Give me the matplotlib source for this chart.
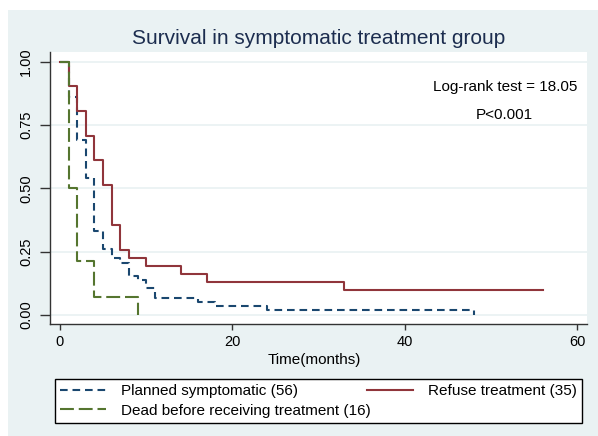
import matplotlib
matplotlib.use('Agg')
import matplotlib.pyplot as plt
from matplotlib.patches import Rectangle

plt.rcParams['font.family'] = ['Liberation Sans', 'DejaVu Sans']
plt.rcParams['lines.scale_dashes'] = False

# Kaplan-Meier steps
planned_t = [0, 1, 2, 3, 4, 5, 6, 7, 8, 9, 10, 11, 16, 18, 24, 48]
planned_s = [1.0, 0.86, 0.69, 0.54, 0.33, 0.26, 0.224, 0.207, 0.155, 0.138, 0.107, 0.068, 0.053, 0.036, 0.018, 0.0]
refuse_t = [0, 1, 2, 3, 4, 5, 6, 7, 8, 10, 14, 17, 33, 56]
refuse_s = [1.0, 0.905, 0.805, 0.707, 0.613, 0.514, 0.357, 0.257, 0.226, 0.195, 0.162, 0.129, 0.099, 0.099]
dead_t = [0, 1, 2, 4, 9]
dead_s = [1.0, 0.5, 0.214, 0.071, 0.0]

labels = ['Planned symptomatic (56)', 'Refuse treatment (35)', 'Dead before receiving treatment (16)']
yticks = [0, 0.25, 0.5, 0.75, 1.0]
xticks = [0, 20, 40, 60]

W, H = 598, 436
bg = '#eaf2f3'

fig = plt.figure(figsize=(W / 100, H / 100), dpi=100)
fig.patches.append(Rectangle((8 / W, 0), (W - 8) / W, (H - 10) / H, transform=fig.transFigure,
                             facecolor=bg, edgecolor='none', zorder=-10))

# axes box in pixels: x 50..587, y 52..323.5
ax = fig.add_axes([50 / W, (H - 323.5) / H, 537 / W, 271.5 / H])
ax.set_facecolor('white')

l1, = ax.step(planned_t, planned_s, where='post', color='#1a476f', lw=1.5, dashes=(5.5, 3.5))
l2, = ax.step(refuse_t, refuse_s, where='post', color='#90353b', lw=1.5)
l3, = ax.step(dead_t, dead_s, where='post', color='#55752f', lw=1.5, dashes=(10, 3.5))

ax.set_xlim(-1.16, 61.14)
ax.set_ylim(-0.0336, 1.038)
ax.set_xticks(xticks)
ax.set_yticks(yticks)
ax.set_yticklabels(['%.2f' % v for v in yticks], rotation=90, va='center')
ax.grid(axis='y', color=bg, lw=1.3)
ax.set_axisbelow(True)

for s in ['top', 'right']:
    ax.spines[s].set_visible(False)
for s in ['left', 'bottom']:
    ax.spines[s].set_color('#333333')
    ax.spines[s].set_linewidth(1.0)
ax.tick_params(axis='y', length=7, width=1, color='#333333', pad=5, labelsize=10.5)
ax.tick_params(axis='x', length=4.5, width=1, color='#333333', pad=4, labelsize=10.5)

ax.text(51.6, 0.90, 'Log-rank test = 18.05', ha='center', va='center', fontsize=11)
ax.text(51.6, 0.79, 'P<0.001', ha='center', va='center', fontsize=11)

fig.text(318.5 / W, 1 - 38 / H, 'Survival in symptomatic treatment group',
         ha='center', va='center', fontsize=15, color='#1c2d4f')
fig.text(314 / W, 1 - 360 / H, 'Time(months)', ha='center', va='center', fontsize=11)

leg = fig.legend([l1, l3, l2], [labels[0], labels[2], labels[1]], ncol=2, mode='expand',
                 loc='lower left', bbox_to_anchor=(55 / W, (H - 423) / H, 527 / W, 46 / H),
                 fancybox=False, edgecolor='black', framealpha=1, facecolor='white',
                 fontsize=11, handlelength=3.0, handletextpad=1.0, labelspacing=0.35,
                 borderaxespad=0, borderpad=0.35)
leg.get_frame().set_linewidth(1.0)

fig.savefig('out.png', dpi=100)
